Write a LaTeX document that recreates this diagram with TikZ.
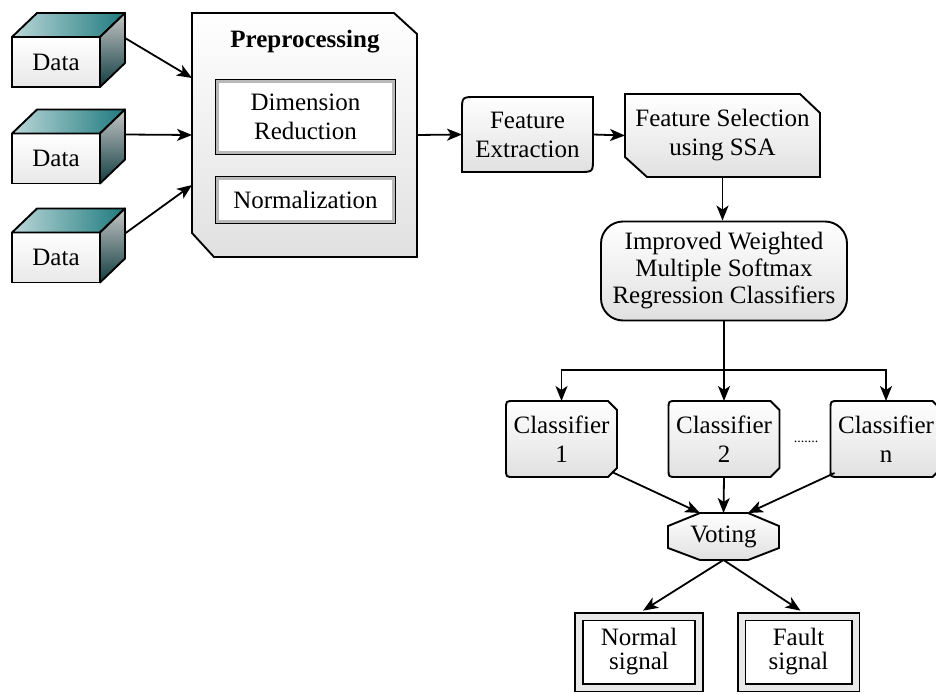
\documentclass[tikz,border=0pt]{standalone}
\usepackage{fontspec}
\setmainfont{Liberation Serif}
\usetikzlibrary{arrows.meta,backgrounds,calc}

\definecolor{datateal}{RGB}{30,122,126}
\definecolor{datadark}{RGB}{18,62,66}
\newcommand{\fsz}{\fontsize{25}{29}\selectfont}

\tikzset{
  flow/.style={-{Stealth[length=15pt,width=12pt,inset=4pt]}, line width=1.8pt},
  outline/.style={draw=black, line width=1.9pt, top color=white, bottom color=gray!24},
  txt/.style={align=center, inner sep=0pt, outer sep=0pt},
  datafront/.style={draw, line width=1.9pt, minimum width=88pt, minimum height=50pt,
    outer sep=0pt, top color=white, bottom color=gray!18},
  bevel/.style={align=center, fill=white, draw=gray!55, line width=2.4pt,
    preaction={draw=black, line width=5pt}, inner sep=0pt},
  result/.style={align=center, draw, line width=1.7pt, double=gray!18,
    double distance=6pt, fill=white, inner sep=0pt,
    minimum width=#1, minimum height=71pt, font=\fontsize{25}{24}\selectfont},
}

\begin{document}
\begin{tikzpicture}[x=1pt, y=-1pt, every node/.style={font=\fsz}]
\useasboundingbox (0,0) rectangle (936,695);
\clip (0,0) rectangle (936,695);

% data cubes
\foreach \name/\y in {d1/62, d2/158.5, d3/257.5} {
  \node[datafront] (\name) at (56,\y) {Data};
  \shadedraw[line width=1.9pt, line join=round, left color=white!70!datateal, right color=datateal]
    (\name.north west) -- ([xshift=25pt,yshift=24pt]\name.north west)
    -- ([xshift=25pt,yshift=24pt]\name.north east) -- (\name.north east) -- cycle;
  \shadedraw[line width=1.9pt, line join=round, top color=gray!45, bottom color=datadark]
    (\name.north east) -- ([xshift=25pt,yshift=24pt]\name.north east)
    -- ([xshift=25pt,yshift=24pt]\name.south east) -- (\name.south east) -- cycle;
}

% preprocessing
\node[txt, minimum width=225pt, minimum height=244pt] (pre) at (304.5,135) {};
\node[font=\fsz\bfseries] (pretitle) at (305,42) {Preprocessing};
\node[bevel, minimum width=176pt, minimum height=71pt] (dr) at (305.5,117) {Dimension\\Reduction};
\node[bevel, minimum width=176pt, minimum height=43pt] (nm) at (305.5,200) {Normalization};

% features
\node[txt, minimum width=131pt, minimum height=75pt] (fe) at (527.5,134.5) {Feature\\Extraction};
\node[txt, minimum width=195pt, minimum height=83pt] (fs) at (722.5,135.5) {Feature Selection\\using SSA};
\node[align=center, draw, line width=1.9pt, rounded corners=22pt, top color=white,
  bottom color=gray!24, minimum width=246pt, minimum height=99pt, inner sep=0pt,
  font=\fontsize{25}{27}\selectfont] (iw) at (724,271)
  {Improved Weighted\\Multiple Softmax\\Regression Classifiers};
\coordinate (split) at (724,370);

% classifiers
\foreach \name/\x/\num in {c1/561.5/1, c2/724/2, cn/886/n}
  \node[txt, minimum width=111pt, minimum height=76pt] (\name) at (\x,439) {Classifier\\\num};
\node[font=\fontsize{14}{16}\selectfont] (dots) at (806,442) {.......};
\node[txt, minimum width=111pt, minimum height=47pt] (vot) at (723.5,536.5) {Voting};

% outcomes
\node[result=120pt] (ns) at (639,652) {Normal\\signal};
\node[result=114pt] (fault) at (798.5,652) {Fault\\signal};

\begin{scope}[on background layer]
\fill[white] (0,0) rectangle (936,695);
\draw[outline] (pre.north west) -- ([xshift=-23pt]pre.north east) -- ([yshift=-21pt]pre.north east)
  -- (pre.south east) -- ([xshift=22pt]pre.south west) -- ([yshift=24pt]pre.south west) -- cycle;
\draw[outline] ([yshift=-14pt]fe.north west) .. controls (fe.north west) .. ([xshift=14pt]fe.north west)
  -- (fe.north east) -- ([yshift=14pt]fe.south east) .. controls (fe.south east) .. ([xshift=-14pt]fe.south east)
  -- (fe.south west) -- cycle;
\draw[outline] (fs.north west) -- ([xshift=-20pt]fs.north east) -- ([yshift=-19pt]fs.north east)
  -- (fs.south east) -- ([xshift=22pt]fs.south west) -- ([yshift=20pt]fs.south west) -- cycle;
\foreach \name in {c1, c2, cn}
  \draw[outline] ([yshift=-8pt]\name.north west) .. controls (\name.north west) .. ([xshift=8pt]\name.north west)
    -- ([xshift=-9pt]\name.north east) -- ([yshift=-9pt]\name.north east)
    -- ([yshift=9pt]\name.south east) -- ([xshift=-9pt]\name.south east)
    -- ([xshift=8pt]\name.south west) .. controls (\name.south west) .. ([yshift=8pt]\name.south west) -- cycle;
\draw[outline] ([xshift=32pt]vot.north west) -- ([xshift=-31pt]vot.north east) -- ([yshift=-13pt]vot.north east)
  -- ([yshift=12pt]vot.south east) -- ([xshift=-31pt]vot.south east) -- ([xshift=32pt]vot.south west)
  -- ([yshift=12pt]vot.south west) -- ([yshift=-13pt]vot.north west) -- cycle;
\end{scope}

% connectors
\draw[flow] ([xshift=25pt,yshift=24pt]d1.east) -- ([yshift=57pt]pre.west);
\draw[flow] ([xshift=25pt,yshift=24pt]d2.east) -- (pre.west);
\draw[flow] ([xshift=25pt,yshift=24pt]d3.east) -- ([yshift=-50pt]pre.west);
\draw[flow] (pre.east) -- (fe.west);
\draw[flow] (fe.east) -- (fs.west);
\draw[flow] (fs.south) -- (fs.south |- iw.north);
\draw[line width=1.8pt] (iw.south) -- (split);
\draw[flow] (split) -| (c1.north);
\draw[flow] (split) -- (c2.north);
\draw[flow] (split) -| (cn.north);
\draw[flow] ([xshift=-5pt,yshift=5pt]c1.south east) -- ([xshift=32pt]vot.north west);
\draw[flow] (c2.south) -- (vot.north);
\draw[flow] ([xshift=4pt,yshift=4pt]cn.south west) -- ([xshift=-31pt]vot.north east);
\draw[flow] (vot.south) -- ([xshift=4pt,yshift=5pt]ns.north);
\draw[flow] (vot.south) -- ([xshift=2pt,yshift=5pt]fault.north);
\end{tikzpicture}
\end{document}
